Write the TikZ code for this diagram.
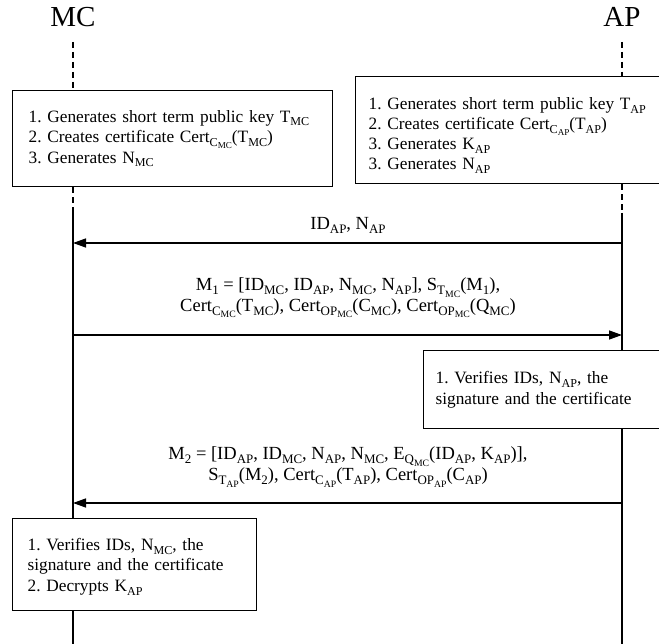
\documentclass[tikz,border=0pt]{standalone}
\usepackage{fontspec}
\setmainfont{Liberation Serif}
\usetikzlibrary{arrows.meta}
\frenchspacing
\makeatletter
% lowered subscript and second-level subscript, sized from the current font
\newcommand\lo[1]{\raisebox{-.22em}{\fontsize{\fpeval{0.7*\f@size}}{1}\selectfont #1}}
\newcommand\llo[1]{\raisebox{-.2em}{\fontsize{\fpeval{0.75*\f@size}}{1}\selectfont #1}}
\makeatother
\begin{document}
\begin{tikzpicture}[x=1pt,y=-1pt,
  every node/.style={font=\fontsize{17.3}{20.5}\selectfont, inner sep=0pt},
  actor/.style={font=\fontsize{29}{30}\selectfont},
  lifedash/.style={line width=1.3pt, dash pattern=on 6pt off 4pt},
  life/.style={line width=1.3pt},
  procbox/.style={draw, line width=1.3pt, fill=white, align=left, anchor=north west},
  msg/.style={line width=1.3pt, -{Triangle[length=13pt,width=9pt]}},
  msglabel/.style={align=center, font=\fontsize{18.5}{18.5}\selectfont}
]
\useasboundingbox (0,0) rectangle (659,644);

% participants
\node[actor] (mc) at (73,17) {MC};
\node[actor] (ap) at (622,17) {AP};

% lifeline anchor points
\coordinate (mcTop) at (73,42);
\coordinate (apTop) at (622,42);
\coordinate (mcDashEnd) at (73,212);
\coordinate (apDashEnd) at (622,213);
\coordinate (mcBot) at (73,644);
\coordinate (apBot) at (622,644);
\coordinate (mcA1) at (73,243);
\coordinate (apA1) at (622,243);
\coordinate (mcA2) at (73,335);
\coordinate (apA2) at (622,335);
\coordinate (mcA3) at (73,503);
\coordinate (apA3) at (622,503);

% solid lifelines (boxes are drawn on top of them)
\draw[life] (mcDashEnd) -- (mcBot);
\draw[life] (apDashEnd) -- (apBot);

% initial processing
\node[procbox, text width=288pt, inner xsep=16pt, minimum height=96pt] (mcgen) at (12,90)
  {1. Generates short term public key T\lo{MC}\\
   2. Creates certificate Cert\lo{C\llo{MC}}(T\lo{MC})\\
   3. Generates N\lo{MC}};
\node[procbox, text width=290pt, inner xsep=13pt, minimum height=107pt,
      font=\fontsize{17.3}{20}\selectfont] (apgen) at (355,76)
  {\rule{0pt}{22.5pt}1. Generates short term public key T\lo{AP}\\
   2. Creates certificate Cert\lo{C\llo{AP}}(T\lo{AP})\\
   3. Generates K\lo{AP}\\
   3. Generates N\lo{AP}};

\draw[lifedash] (mcTop) -- (mcgen.north -| mcTop);
\draw[lifedash] (apTop) -- (apgen.north -| apTop);
\draw[lifedash] (mcgen.south -| mcTop) -- (mcDashEnd);
\draw[lifedash] (apgen.south -| apTop) -- (apDashEnd);

% message 1
\draw[msg] (apA1) -- (mcA1);
\node[msglabel] (m1) at (348,225) {ID\lo{AP}, N\lo{AP}};

% message 2
\draw[msg] (mcA2) -- (apA2);
\node[msglabel] (m2) at (348,298)
  {M\lo{1} = [ID\lo{MC}, ID\lo{AP}, N\lo{MC}, N\lo{AP}], S\lo{T\llo{MC}}(M\lo{1}),\\
   Cert\lo{C\llo{MC}}(T\lo{MC}), Cert\lo{OP\llo{MC}}(C\lo{MC}), Cert\lo{OP\llo{MC}}(Q\lo{MC})};

% AP verification
\node[procbox, text width=230pt, inner xsep=12pt, minimum height=78pt] (apver) at (423,350)
  {1. Verifies IDs, N\lo{AP}, the\\
   signature and the certificate};

% message 3
\draw[msg] (apA3) -- (mcA3);
\node[msglabel] (m3) at (348,467)
  {M\lo{2} = [ID\lo{AP}, ID\lo{MC}, N\lo{AP}, N\lo{MC}, E\lo{Q\llo{MC}}(ID\lo{AP}, K\lo{AP})],\\
   S\lo{T\llo{AP}}(M\lo{2}), Cert\lo{C\llo{AP}}(T\lo{AP}), Cert\lo{OP\llo{AP}}(C\lo{AP})};

% MC verification
\node[procbox, text width=214pt, inner xsep=15pt, minimum height=92pt] (mcver) at (12,518)
  {\rule{0pt}{16pt}1. Verifies IDs, N\lo{MC}, the\\
   signature and the certificate\\
   2. Decrypts K\lo{AP}};
\end{tikzpicture}
\end{document}
